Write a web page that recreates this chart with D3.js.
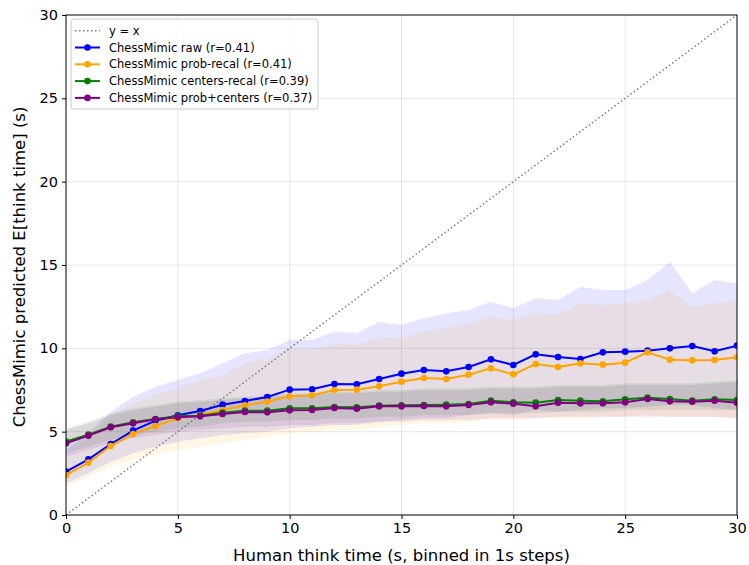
<!DOCTYPE html>
<html>
<head>
<meta charset="utf-8">
<script src="https://cdn.jsdelivr.net/npm/d3@7"></script>
<style>
  body { margin: 0; background: #fff; }
  svg text { font-family: "DejaVu Sans", sans-serif; fill: #000; }
</style>
</head>
<body>
<div class="chart"></div>
<script>
const bins = [0, 1, 2, 3, 4, 5, 6, 7, 8, 9, 10, 11, 12, 13, 14, 15, 16, 17, 18, 19, 20, 21, 22, 23, 24, 25, 26, 27, 28, 29, 30];

// mean predictions per bin
const rawMean = [2.6, 3.34, 4.26, 5.06, 5.66, 5.98, 6.24, 6.62, 6.84, 7.08, 7.52, 7.54, 7.86, 7.84, 8.16, 8.48, 8.7, 8.62, 8.88, 9.34, 9.0, 9.64, 9.48, 9.36, 9.76, 9.8, 9.86, 10.0, 10.14, 9.82, 10.16];
const probMean = [2.4, 3.14, 4.14, 4.86, 5.34, 5.8, 6.0, 6.3, 6.58, 6.8, 7.12, 7.18, 7.5, 7.52, 7.72, 8.0, 8.22, 8.16, 8.42, 8.8, 8.44, 9.06, 8.88, 9.1, 9.02, 9.14, 9.76, 9.32, 9.28, 9.3, 9.46];
const centersMean = [4.4, 4.82, 5.3, 5.56, 5.76, 5.92, 5.96, 6.14, 6.26, 6.26, 6.4, 6.4, 6.48, 6.46, 6.56, 6.58, 6.6, 6.62, 6.66, 6.86, 6.76, 6.74, 6.9, 6.86, 6.82, 6.94, 7.04, 6.96, 6.86, 6.94, 6.9];
const bothMean = [4.3, 4.76, 5.26, 5.5, 5.74, 5.86, 5.92, 6.06, 6.18, 6.16, 6.28, 6.3, 6.42, 6.38, 6.52, 6.52, 6.54, 6.52, 6.6, 6.76, 6.68, 6.52, 6.74, 6.7, 6.7, 6.76, 6.96, 6.82, 6.8, 6.86, 6.74];

// spread bands per bin
const rawHi = [3.9, 4.9, 6.2, 7.1, 7.7, 8.1, 8.5, 9.1, 9.7, 9.9, 10.5, 10.5, 11.0, 10.9, 11.6, 11.4, 11.8, 12.1, 12.3, 12.8, 12.4, 13.0, 12.9, 13.7, 13.5, 13.5, 14.1, 15.2, 13.3, 14.1, 13.9];
const rawLo = [1.9, 2.5, 3.2, 3.7, 4.1, 4.4, 4.6, 4.8, 4.9, 5.0, 5.2, 5.3, 5.4, 5.4, 5.6, 5.7, 5.8, 5.8, 6.0, 6.1, 6.0, 6.3, 6.2, 6.3, 6.4, 6.4, 6.5, 6.6, 6.6, 6.4, 6.3];
const probHi = [3.6, 4.6, 6.0, 6.7, 7.2, 7.6, 8.1, 8.4, 9.1, 9.4, 10.0, 9.9, 10.3, 10.2, 10.7, 10.6, 11.0, 11.2, 11.5, 11.9, 11.7, 12.1, 12.0, 12.7, 12.6, 12.7, 12.9, 13.5, 12.5, 12.7, 12.9];
const probLo = [1.7, 2.3, 2.9, 3.3, 3.6, 3.9, 4.1, 4.3, 4.5, 4.7, 4.9, 5.0, 5.1, 5.1, 5.3, 5.4, 5.5, 5.5, 5.6, 5.7, 5.7, 5.8, 5.8, 5.8, 5.9, 5.9, 6.0, 5.9, 5.9, 5.9, 5.8];
const centersHi = [5.2, 5.6, 6.1, 6.4, 6.6, 6.8, 6.9, 7.0, 7.1, 7.2, 7.3, 7.3, 7.4, 7.4, 7.5, 7.5, 7.6, 7.6, 7.6, 7.7, 7.7, 7.7, 7.8, 7.8, 7.8, 7.9, 7.9, 7.9, 7.9, 8.0, 8.1];
const centersLo = [3.7, 4.1, 4.5, 4.8, 5.0, 5.2, 5.3, 5.5, 5.6, 5.6, 5.7, 5.7, 5.8, 5.8, 5.9, 5.9, 6.0, 6.0, 6.0, 6.1, 6.1, 6.1, 6.2, 6.2, 6.2, 6.3, 6.3, 6.3, 6.3, 6.3, 6.3];
const bothHi = [5.1, 5.5, 6.0, 6.3, 6.5, 6.7, 6.8, 6.9, 7.0, 7.1, 7.2, 7.2, 7.3, 7.3, 7.4, 7.4, 7.5, 7.5, 7.5, 7.6, 7.6, 7.6, 7.7, 7.7, 7.7, 7.8, 7.8, 7.8, 7.8, 7.9, 8.0];
const bothLo = [3.5, 3.9, 4.3, 4.6, 4.8, 5.0, 5.1, 5.2, 5.3, 5.3, 5.4, 5.4, 5.5, 5.5, 5.6, 5.6, 5.7, 5.7, 5.7, 5.8, 5.8, 5.8, 5.9, 5.9, 5.9, 5.9, 5.9, 5.9, 5.9, 5.9, 5.8];

const seriesNames = ['ChessMimic raw (r=0.41)', 'ChessMimic prob-recal (r=0.41)', 'ChessMimic centers-recal (r=0.39)', 'ChessMimic prob+centers (r=0.37)'];
const seriesColors = ['blue', 'orange', 'green', 'purple'];
const xTicks = [0, 5, 10, 15, 20, 25, 30];
const yTicks = [0, 5, 10, 15, 20, 25, 30];

const series = [
  { name: seriesNames[0], color: seriesColors[0], mean: rawMean, lo: rawLo, hi: rawHi },
  { name: seriesNames[1], color: seriesColors[1], mean: probMean, lo: probLo, hi: probHi },
  { name: seriesNames[2], color: seriesColors[2], mean: centersMean, lo: centersLo, hi: centersHi },
  { name: seriesNames[3], color: seriesColors[3], mean: bothMean, lo: bothLo, hi: bothHi }
];

const WIDTH = 749, HEIGHT = 565;
const MARGIN = { top: 15, right: 12, bottom: 50, left: 66 };
const INNER_W = WIDTH - MARGIN.left - MARGIN.right;
const INNER_H = HEIGHT - MARGIN.top - MARGIN.bottom;

const x = d3.scaleLinear().domain([0, 30]).range([0, INNER_W]);
const y = d3.scaleLinear().domain([0, 30]).range([INNER_H, 0]);

const svg = d3.select('.chart').append('svg')
  .attr('width', WIDTH)
  .attr('height', HEIGHT);

const g = svg.append('g')
  .attr('transform', `translate(${MARGIN.left},${MARGIN.top})`);

g.append('defs').append('clipPath').attr('id', 'clip')
  .append('rect').attr('width', INNER_W).attr('height', INNER_H);

// grid
g.append('g').selectAll('line').data(xTicks.slice(1, -1)).enter().append('line')
  .attr('x1', d => x(d)).attr('x2', d => x(d)).attr('y1', 0).attr('y2', INNER_H)
  .attr('stroke', '#b0b0b0').attr('stroke-opacity', 0.3).attr('stroke-width', 1);
g.append('g').selectAll('line').data(yTicks.slice(1, -1)).enter().append('line')
  .attr('y1', d => y(d)).attr('y2', d => y(d)).attr('x1', 0).attr('x2', INNER_W)
  .attr('stroke', '#b0b0b0').attr('stroke-opacity', 0.3).attr('stroke-width', 1);

const plot = g.append('g').attr('clip-path', 'url(#clip)');

// y = x reference
plot.append('line')
  .attr('x1', x(0)).attr('y1', y(0)).attr('x2', x(30)).attr('y2', y(30))
  .attr('stroke', '#7f7f7f').attr('stroke-width', 1.5)
  .attr('stroke-dasharray', '1.5,2.5');

const area = d3.area()
  .x((d, i) => x(bins[i]))
  .y0(d => y(d[0]))
  .y1(d => y(d[1]));

series.forEach(s => {
  plot.append('path')
    .datum(s.lo.map((v, i) => [v, s.hi[i]]))
    .attr('d', area)
    .attr('fill', s.color)
    .attr('fill-opacity', 0.1);
});

const line = d3.line().x((d, i) => x(bins[i])).y(d => y(d));

series.forEach(s => {
  const sg = plot.append('g');
  sg.append('path')
    .datum(s.mean)
    .attr('d', line)
    .attr('fill', 'none')
    .attr('stroke', s.color)
    .attr('stroke-width', 2);
  sg.selectAll('circle').data(s.mean).enter().append('circle')
    .attr('cx', (d, i) => x(bins[i]))
    .attr('cy', d => y(d))
    .attr('r', 3.3)
    .attr('fill', s.color);
});

// axes
const xAxis = d3.axisBottom(x).tickValues(xTicks).tickSizeInner(4).tickSizeOuter(0).tickPadding(4);
const yAxis = d3.axisLeft(y).tickValues(yTicks).tickSizeInner(4).tickSizeOuter(0).tickPadding(4);

const gx = g.append('g').attr('transform', `translate(0,${INNER_H})`).call(xAxis);
const gy = g.append('g').call(yAxis);
[gx, gy].forEach(a => {
  a.select('.domain').remove();
  a.selectAll('line').attr('stroke', '#000').attr('stroke-width', 1);
  a.selectAll('text').style('font-size', '14.5px').style('font-family', '"DejaVu Sans", sans-serif');
});

g.append('rect')
  .attr('width', INNER_W).attr('height', INNER_H)
  .attr('fill', 'none').attr('stroke', '#000').attr('stroke-width', 1);

g.append('text')
  .attr('x', INNER_W / 2).attr('y', INNER_H + 46)
  .attr('text-anchor', 'middle')
  .style('font-size', '16.5px')
  .text('Human think time (s, binned in 1s steps)');

g.append('text')
  .attr('transform', `translate(${-41},${INNER_H / 2 + 2}) rotate(-90)`)
  .attr('text-anchor', 'middle')
  .style('font-size', '16.5px')
  .text('ChessMimic predicted E[think time] (s)');

// legend
const legendItems = [{ name: 'y = x', color: '#7f7f7f', dotted: true }]
  .concat(series.map(s => ({ name: s.name, color: s.color })));

const legend = g.append('g').attr('transform', 'translate(5,4)');
legend.append('rect')
  .attr('width', 247).attr('height', 90)
  .attr('rx', 3)
  .attr('fill', '#fff').attr('fill-opacity', 0.8)
  .attr('stroke', '#cccccc');

const rows = legend.selectAll('g.row').data(legendItems).enter().append('g')
  .attr('class', 'row')
  .attr('transform', (d, i) => `translate(0,${11.7 + i * 16.8})`);

rows.append('line')
  .attr('x1', 4).attr('x2', 29).attr('y1', 0).attr('y2', 0)
  .attr('stroke', d => d.color)
  .attr('stroke-width', d => d.dotted ? 1.5 : 2)
  .attr('stroke-dasharray', d => d.dotted ? '1.5,2.5' : null);

rows.filter(d => !d.dotted).append('circle')
  .attr('cx', 16.5).attr('cy', 0).attr('r', 3.3)
  .attr('fill', d => d.color);

rows.append('text')
  .attr('x', 38).attr('y', 0).attr('dy', '0.35em')
  .style('font-size', '11.5px')
  .text(d => d.name);
</script>
</body>
</html>
